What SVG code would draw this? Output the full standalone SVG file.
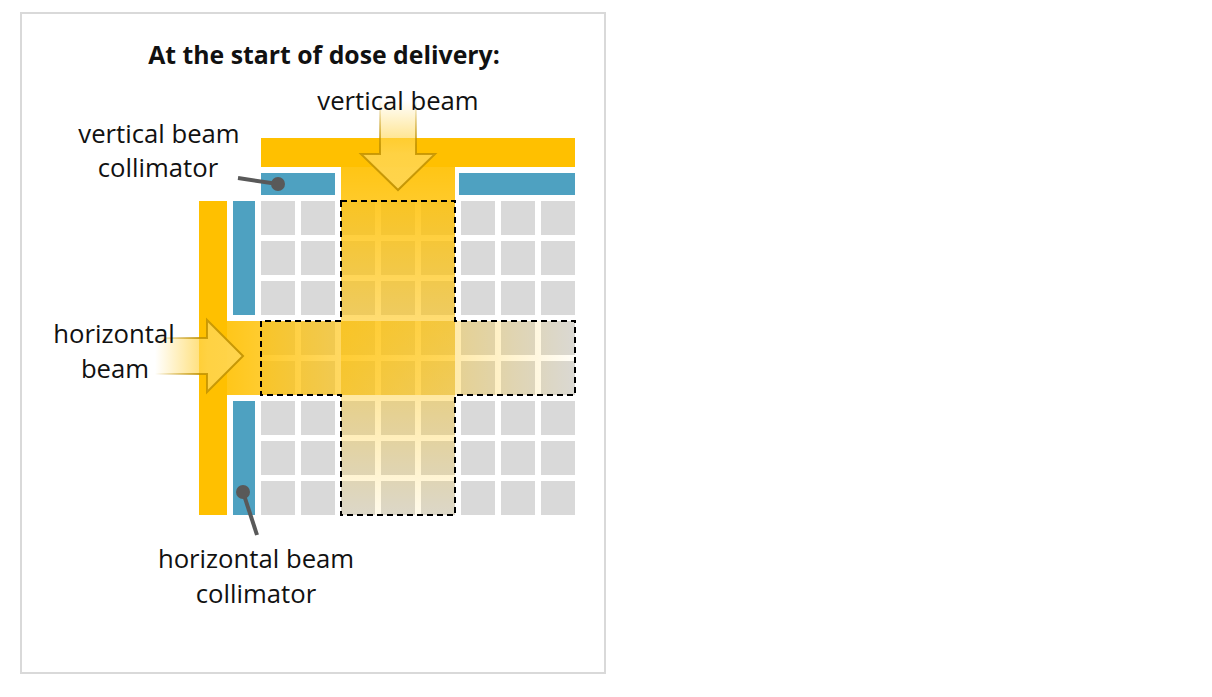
<svg xmlns="http://www.w3.org/2000/svg" width="1212" height="697" viewBox="0 0 1212 697">
<defs>
<style>
.t{font-family:"Open Sans","Noto Sans","Liberation Sans",sans-serif;font-size:25.7px;fill:#111;text-anchor:middle}
.ttl{font-family:"Open Sans","Noto Sans","Liberation Sans",sans-serif;font-size:24.8px;font-weight:bold;fill:#111;text-anchor:middle}
.cell{fill:#d9d9d9}
.yel{fill:#ffc000}
.blu{fill:#4ea1c1}
.lead{stroke:#595959;stroke-width:4;fill:none}
.dot{fill:#595959}
</style>
<linearGradient id="gv" x1="0" y1="167" x2="0" y2="515" gradientUnits="userSpaceOnUse">
<stop offset="0" stop-color="#ffc000" stop-opacity="0.92"/>
<stop offset="1" stop-color="#ffc000" stop-opacity="0.08"/>
</linearGradient>
<linearGradient id="gh" x1="227" y1="0" x2="575" y2="0" gradientUnits="userSpaceOnUse">
<stop offset="0" stop-color="#ffc000" stop-opacity="0.9"/>
<stop offset="1" stop-color="#ffc000" stop-opacity="0.03"/>
</linearGradient>
<linearGradient id="av" x1="0" y1="100" x2="0" y2="190" gradientUnits="userSpaceOnUse">
<stop offset="0" stop-color="#ffd54f" stop-opacity="0"/>
<stop offset="0.6" stop-color="#ffd54f" stop-opacity="0.85"/>
<stop offset="1" stop-color="#ffd54f" stop-opacity="0.95"/>
</linearGradient>
<linearGradient id="avs" x1="0" y1="100" x2="0" y2="190" gradientUnits="userSpaceOnUse">
<stop offset="0" stop-color="#bf9000" stop-opacity="0"/>
<stop offset="0.5" stop-color="#bf9000" stop-opacity="0.8"/>
<stop offset="1" stop-color="#bf9000" stop-opacity="0.9"/>
</linearGradient>
<linearGradient id="ah" x1="155" y1="0" x2="243" y2="0" gradientUnits="userSpaceOnUse">
<stop offset="0" stop-color="#ffd54f" stop-opacity="0"/>
<stop offset="0.6" stop-color="#ffd54f" stop-opacity="0.85"/>
<stop offset="1" stop-color="#ffd54f" stop-opacity="0.95"/>
</linearGradient>
<linearGradient id="ahs" x1="155" y1="0" x2="243" y2="0" gradientUnits="userSpaceOnUse">
<stop offset="0" stop-color="#bf9000" stop-opacity="0"/>
<stop offset="0.5" stop-color="#bf9000" stop-opacity="0.8"/>
<stop offset="1" stop-color="#bf9000" stop-opacity="0.9"/>
</linearGradient>
</defs>
<rect x="0" y="0" width="1212" height="697" fill="#fff"/>
<rect id="frame" x="21" y="13" width="584" height="660" fill="#fff" stroke="#d9d9d9" stroke-width="2"/>

<g id="grid">
<rect class="cell" x="261" y="201" width="34" height="34"/><rect class="cell" x="301" y="201" width="34" height="34"/><rect class="cell" x="341" y="201" width="34" height="34"/><rect class="cell" x="381" y="201" width="34" height="34"/><rect class="cell" x="421" y="201" width="34" height="34"/><rect class="cell" x="461" y="201" width="34" height="34"/><rect class="cell" x="501" y="201" width="34" height="34"/><rect class="cell" x="541" y="201" width="34" height="34"/>
<rect class="cell" x="261" y="241" width="34" height="34"/><rect class="cell" x="301" y="241" width="34" height="34"/><rect class="cell" x="341" y="241" width="34" height="34"/><rect class="cell" x="381" y="241" width="34" height="34"/><rect class="cell" x="421" y="241" width="34" height="34"/><rect class="cell" x="461" y="241" width="34" height="34"/><rect class="cell" x="501" y="241" width="34" height="34"/><rect class="cell" x="541" y="241" width="34" height="34"/>
<rect class="cell" x="261" y="281" width="34" height="34"/><rect class="cell" x="301" y="281" width="34" height="34"/><rect class="cell" x="341" y="281" width="34" height="34"/><rect class="cell" x="381" y="281" width="34" height="34"/><rect class="cell" x="421" y="281" width="34" height="34"/><rect class="cell" x="461" y="281" width="34" height="34"/><rect class="cell" x="501" y="281" width="34" height="34"/><rect class="cell" x="541" y="281" width="34" height="34"/>
<rect class="cell" x="261" y="321" width="34" height="34"/><rect class="cell" x="301" y="321" width="34" height="34"/><rect class="cell" x="341" y="321" width="34" height="34"/><rect class="cell" x="381" y="321" width="34" height="34"/><rect class="cell" x="421" y="321" width="34" height="34"/><rect class="cell" x="461" y="321" width="34" height="34"/><rect class="cell" x="501" y="321" width="34" height="34"/><rect class="cell" x="541" y="321" width="34" height="34"/>
<rect class="cell" x="261" y="361" width="34" height="34"/><rect class="cell" x="301" y="361" width="34" height="34"/><rect class="cell" x="341" y="361" width="34" height="34"/><rect class="cell" x="381" y="361" width="34" height="34"/><rect class="cell" x="421" y="361" width="34" height="34"/><rect class="cell" x="461" y="361" width="34" height="34"/><rect class="cell" x="501" y="361" width="34" height="34"/><rect class="cell" x="541" y="361" width="34" height="34"/>
<rect class="cell" x="261" y="401" width="34" height="34"/><rect class="cell" x="301" y="401" width="34" height="34"/><rect class="cell" x="341" y="401" width="34" height="34"/><rect class="cell" x="381" y="401" width="34" height="34"/><rect class="cell" x="421" y="401" width="34" height="34"/><rect class="cell" x="461" y="401" width="34" height="34"/><rect class="cell" x="501" y="401" width="34" height="34"/><rect class="cell" x="541" y="401" width="34" height="34"/>
<rect class="cell" x="261" y="441" width="34" height="34"/><rect class="cell" x="301" y="441" width="34" height="34"/><rect class="cell" x="341" y="441" width="34" height="34"/><rect class="cell" x="381" y="441" width="34" height="34"/><rect class="cell" x="421" y="441" width="34" height="34"/><rect class="cell" x="461" y="441" width="34" height="34"/><rect class="cell" x="501" y="441" width="34" height="34"/><rect class="cell" x="541" y="441" width="34" height="34"/>
<rect class="cell" x="261" y="481" width="34" height="34"/><rect class="cell" x="301" y="481" width="34" height="34"/><rect class="cell" x="341" y="481" width="34" height="34"/><rect class="cell" x="381" y="481" width="34" height="34"/><rect class="cell" x="421" y="481" width="34" height="34"/><rect class="cell" x="461" y="481" width="34" height="34"/><rect class="cell" x="501" y="481" width="34" height="34"/><rect class="cell" x="541" y="481" width="34" height="34"/>
</g>

<g id="sources">
<rect class="yel" x="261" y="138" width="314" height="29"/>
<rect class="yel" x="199" y="201" width="28" height="314"/>
</g>

<g id="collimators">
<rect class="blu" x="261" y="173" width="74" height="22"/>
<rect class="blu" x="459" y="173" width="116" height="22"/>
<rect class="blu" x="233" y="201" width="22" height="114"/>
<rect class="blu" x="233" y="401" width="22" height="114"/>
</g>

<g id="beams">
<rect x="341" y="167" width="114" height="348" fill="url(#gv)"/>
<rect x="227" y="321" width="348" height="74" fill="url(#gh)"/>
<path d="M341,201 H455 V321 H575 V395 H455 V515 H341 V395 H261 V321 H341 Z" fill="none" stroke="#000" stroke-width="2" stroke-dasharray="6 4"/>
</g>

<g id="arrows">
<path d="M380,95 V154 H361 L398,190 L435,154 H416 V95" fill="url(#av)" stroke="url(#avs)" stroke-width="2" stroke-linejoin="miter"/>
<path d="M150,338 H207 V320 L243,356 L207,392 V374 H150" fill="url(#ah)" stroke="url(#ahs)" stroke-width="2" stroke-linejoin="miter"/>
</g>

<g id="connectors">
<line class="lead" x1="238" y1="178" x2="278" y2="184"/>
<circle class="dot" cx="278" cy="184" r="7"/>
<line class="lead" x1="257" y1="535" x2="243" y2="492"/>
<circle class="dot" cx="243" cy="492" r="7"/>
</g>

<g id="labels">
<text class="ttl" x="324" y="64">At the start of dose delivery:</text>
<text class="t" x="398" y="110">vertical beam</text>
<text class="t" x="159" y="143">vertical beam</text>
<text class="t" x="158" y="177">collimator</text>
<text class="t" x="114" y="343">horizontal</text>
<text class="t" x="115" y="378">beam</text>
<text class="t" x="256" y="568">horizontal beam</text>
<text class="t" x="256" y="603">collimator</text>
</g>
</svg>
